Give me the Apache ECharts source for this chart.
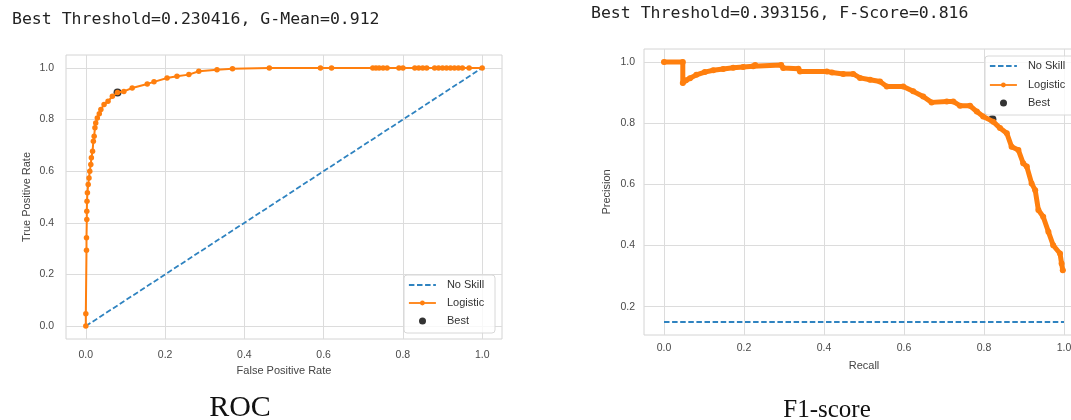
<!DOCTYPE html>
<html><head><meta charset="utf-8">
<script src="https://cdn.jsdelivr.net/npm/echarts@6/dist/echarts.min.js"></script>
<style>html,body{margin:0;padding:0;background:#fff}#c{width:1071px;height:420px}</style>
</head><body><div id="c"></div>
<script>
// ---- data ----
const xTicks = [0, 0.2, 0.4, 0.6, 0.8, 1.0];
const rocYTicks = [0, 0.2, 0.4, 0.6, 0.8, 1.0];
const prYTicks = [0.2, 0.4, 0.6, 0.8, 1.0];

const noSkillRocX = [0, 1];
const noSkillRocY = [0, 1];

const rocFpr = [0, 0, 0.0017, 0.0017, 0.0025, 0.0025, 0.003, 0.004, 0.006, 0.008, 0.010, 0.0126, 0.014, 0.017, 0.019, 0.021, 0.023, 0.025, 0.029, 0.034, 0.038, 0.046, 0.056, 0.067, 0.080, 0.096, 0.117, 0.155, 0.172, 0.205, 0.230, 0.260, 0.285, 0.331, 0.370, 0.463, 0.592, 0.620, 0.724, 0.732, 0.740, 0.750, 0.760, 0.790, 0.800, 0.830, 0.840, 0.850, 0.860, 0.880, 0.890, 0.900, 0.910, 0.920, 0.930, 0.940, 0.950, 0.967, 1.0];
const rocTpr = [0, 0.048, 0.294, 0.342, 0.413, 0.445, 0.484, 0.516, 0.548, 0.574, 0.600, 0.626, 0.652, 0.677, 0.716, 0.735, 0.768, 0.787, 0.806, 0.822, 0.839, 0.858, 0.871, 0.890, 0.905, 0.909, 0.922, 0.938, 0.946, 0.961, 0.968, 0.974, 0.987, 0.993, 0.997, 1.0, 1.0, 1.0, 1.0, 1.0, 1.0, 1.0, 1.0, 1.0, 1.0, 1.0, 1.0, 1.0, 1.0, 1.0, 1.0, 1.0, 1.0, 1.0, 1.0, 1.0, 1.0, 1.0, 1.0];

const noSkillPrX = [0, 1];
const noSkillPrY = [0.15, 0.15];

const prRecall = [0, 0.047, 0.047, 0.055, 0.065, 0.081, 0.102, 0.123, 0.148, 0.173, 0.198, 0.223, 0.228, 0.293, 0.298, 0.336, 0.340, 0.407, 0.420, 0.448, 0.473, 0.490, 0.515, 0.540, 0.557, 0.598, 0.623, 0.648, 0.669, 0.707, 0.723, 0.740, 0.765, 0.782, 0.798, 0.823, 0.840, 0.857, 0.869, 0.886, 0.898, 0.907, 0.919, 0.928, 0.936, 0.948, 0.961, 0.973, 0.990, 0.994, 0.997];
const prPrecision = [1.0, 1.0, 0.931, 0.940, 0.947, 0.958, 0.967, 0.973, 0.977, 0.981, 0.984, 0.986, 0.990, 0.990, 0.980, 0.978, 0.969, 0.969, 0.966, 0.961, 0.961, 0.948, 0.942, 0.936, 0.920, 0.920, 0.904, 0.887, 0.868, 0.871, 0.871, 0.857, 0.857, 0.838, 0.822, 0.805, 0.784, 0.767, 0.723, 0.712, 0.669, 0.658, 0.603, 0.581, 0.516, 0.494, 0.445, 0.401, 0.374, 0.341, 0.319];

const bestRoc = [0.080, 0.905];
const bestPr = [0.821, 0.813];

const headerRoc = 'Best Threshold=0.230416, G-Mean=0.912';
const headerPr = 'Best Threshold=0.393156, F-Score=0.816';
const captionRoc = 'ROC';
const captionPr = 'F1-score';
const seriesNames = ['No Skill', 'Logistic', 'Best'];
const axisNames = ['False Positive Rate', 'True Positive Rate', 'Recall', 'Precision'];

// ---- build ----
const zip = (a, b) => a.map((v, i) => [v, b[i]]);
const BLUE = '#2f83c0', ORANGE = '#ff7f0e';
const SANS = 'Liberation Sans, Arial, sans-serif';
const MONO = 'DejaVu Sans Mono, monospace';
const SERIF = 'Liberation Serif, serif';
const grid = '#dcdcdc';

function valAxis(gi, min, max, ticks, name, gap, margin) {
  return {
    type: 'value', gridIndex: gi, min: min, max: max,
    name: name, nameLocation: 'middle', nameGap: gap,
    nameTextStyle: { fontSize: 11, color: '#444', fontFamily: SANS },
    axisLine: { show: false },
    axisTick: { show: false, customValues: ticks },
    axisLabel: { customValues: ticks, formatter: v => Number(v).toFixed(1), fontSize: 10.5, color: '#4a4a4a', fontFamily: SANS, margin: margin },
    splitLine: { show: true, lineStyle: { color: grid, width: 1 } }
  };
}

function legendItem(name, left, centerY, h, hideDot) {
  const item = hideDot ? { name: name, itemStyle: { opacity: 0 } } : name;
  return {
    data: [item], left: left, top: centerY - 5.5, padding: 0,
    itemWidth: 27, itemHeight: h, orient: 'horizontal',
    textStyle: { fontSize: 11, color: '#333', fontFamily: SANS, padding: [0, 0, 0, 6] },
    lineStyle: { width: 1.8 }, z: 20
  };
}

const gridBase = { show: true, borderColor: '#d4d4d4', borderWidth: 1, backgroundColor: 'transparent', outerBoundsMode: 'none', containLabel: false };

const option = {
  animation: false,
  backgroundColor: '#fff',
  grid: [
    Object.assign({ left: 66, top: 55, width: 436, height: 284 }, gridBase),
    Object.assign({ left: 644, top: 49, width: 440, height: 286 }, gridBase)
  ],
  xAxis: [
    valAxis(0, -0.05, 1.05, xTicks, axisNames[0], 26, 11),
    valAxis(1, -0.05, 1.05, xTicks, axisNames[2], 25, 8)
  ],
  yAxis: [
    valAxis(0, -0.05, 1.05, rocYTicks, axisNames[1], 34, 12),
    valAxis(1, 0.1075, 1.0425, prYTicks, axisNames[3], 32, 9)
  ],
  legend: [
    legendItem(seriesNames[0], 408, 285, 6, true),
    legendItem(seriesNames[1], 408, 303, 6, false),
    legendItem(seriesNames[2], 419, 321, 7, false),
    legendItem(seriesNames[0], 989, 66, 6, true),
    legendItem(seriesNames[1], 989, 85, 6, false),
    legendItem(seriesNames[2], 1000, 103, 7, false)
  ],
  series: [
    { name: seriesNames[0], type: 'line', xAxisIndex: 0, yAxisIndex: 0, data: zip(noSkillRocX, noSkillRocY), symbol: 'none',
      lineStyle: { color: BLUE, width: 1.8, type: [5.5, 2.6] }, itemStyle: { color: BLUE }, z: 3 },
    { name: seriesNames[1], type: 'line', xAxisIndex: 0, yAxisIndex: 0, data: zip(rocFpr, rocTpr), symbol: 'circle', symbolSize: 5.5,
      lineStyle: { color: ORANGE, width: 2 }, itemStyle: { color: ORANGE }, z: 4 },
    { name: seriesNames[2], type: 'scatter', xAxisIndex: 0, yAxisIndex: 0, data: [bestRoc], symbolSize: 8,
      itemStyle: { color: '#000' }, z: 2 },
    { name: seriesNames[0], type: 'line', xAxisIndex: 1, yAxisIndex: 1, data: zip(noSkillPrX, noSkillPrY), symbol: 'none',
      lineStyle: { color: BLUE, width: 1.8, type: [5.5, 2.6] }, itemStyle: { color: BLUE }, z: 3 },
    { name: seriesNames[1], type: 'line', xAxisIndex: 1, yAxisIndex: 1, data: zip(prRecall, prPrecision), symbol: 'circle', symbolSize: 6,
      lineStyle: { color: ORANGE, width: 5, join: 'round', cap: 'round' }, itemStyle: { color: ORANGE }, z: 4 },
    { name: seriesNames[2], type: 'scatter', xAxisIndex: 1, yAxisIndex: 1, data: [bestPr], symbolSize: 8,
      itemStyle: { color: '#000' }, z: 2 }
  ],
  graphic: [
    { type: 'rect', z: 15, shape: { x: 404, y: 275, width: 91, height: 58, r: 3 }, style: { fill: 'rgba(255,255,255,0.8)', stroke: '#d8d8d8', lineWidth: 1 } },
    { type: 'rect', z: 15, shape: { x: 985, y: 56, width: 100, height: 59, r: 3 }, style: { fill: 'rgba(255,255,255,0.8)', stroke: '#d8d8d8', lineWidth: 1 } },
    { type: 'text', z: 30, x: 12, y: 20, style: { text: headerRoc, font: '16.5px ' + MONO, fill: '#222', verticalAlign: 'middle', align: 'left' } },
    { type: 'text', z: 30, x: 591, y: 14, style: { text: headerPr, font: '16.5px ' + MONO, fill: '#222', verticalAlign: 'middle', align: 'left' } },
    { type: 'text', z: 30, x: 240, y: 408, style: { text: captionRoc, font: '30px ' + SERIF, fill: '#111', verticalAlign: 'middle', align: 'center' } },
    { type: 'text', z: 30, x: 827, y: 410, style: { text: captionPr, font: '25px ' + SERIF, fill: '#111', verticalAlign: 'middle', align: 'center' } }
  ]
};
const chart = echarts.init(document.getElementById('c'), null, { renderer: 'canvas' });
chart.setOption(option);
</script></body></html>
